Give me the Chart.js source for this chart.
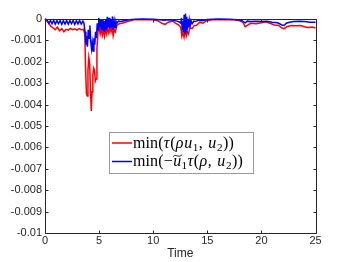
<!DOCTYPE html>
<html><head><meta charset="utf-8">
<script src="https://cdn.jsdelivr.net/npm/chart.js@4"></script>
<style>html,body{margin:0;padding:0;background:#fff}#wrap{width:349px;height:262px;position:relative}</style>
</head><body><div id="wrap"><canvas id="c"></canvas></div>
<script>
const redTime = [0,0.15,0.35,0.55,0.75,0.95,1.15,1.35,1.55,1.75,1.95,2.15,2.35,2.55,2.75,2.95,3.15,3.35,3.55,3.68,3.76,3.83,3.9,3.97,4.05,4.13,4.2,4.28,4.35,4.42,4.5,4.58,4.65,4.72,4.8,4.9,5.0,5.1,5.2,5.3,5.4,5.5,5.6,5.7,5.8,5.9,6.0,6.1,6.2,6.3,6.4,6.5,6.65,6.85,7.1,7.4,7.8,8.2,9,10,10.5,10.8,11.1,11.4,11.8,12.1,12.4,12.55,12.65,12.75,12.85,12.95,13.05,13.15,13.25,13.4,13.6,13.8,14.0,14.3,14.6,14.9,15.5,16.5,17.5,18.0,18.3,18.5,18.7,19.0,19.5,20.0,20.4,20.8,21.2,21.6,21.9,22.1,22.4,22.8,23.2,23.6,24.0,24.3,24.7,25];
const redValues = [0,-0.00008,-0.0002,-0.00035,-0.00042,-0.0005,-0.00038,-0.00055,-0.00045,-0.0006,-0.00048,-0.00052,-0.00044,-0.0005,-0.00046,-0.00052,-0.00045,-0.0005,-0.00048,-0.0007,-0.0025,-0.0035,-0.0036,-0.0024,-0.0018,-0.0021,-0.0033,-0.0043,-0.0034,-0.0026,-0.0023,-0.0024,-0.0029,-0.0028,-0.0014,-0.0006,-0.00045,-0.0007,-0.0004,-0.00075,-0.0005,-0.0008,-0.00045,-0.0007,-0.0004,-0.00065,-0.0004,-0.0006,-0.00038,-0.00078,-0.0005,-0.0006,-0.0003,-0.00022,-0.0002,-0.00015,-0.0001,-0.00004,-0.00003,-0.00004,-0.0001,-0.0002,-0.00025,-0.00015,-0.0001,-0.0002,-0.0003,-0.0004,-0.0008,-0.0006,-0.00085,-0.0005,-0.0008,-0.0006,-0.0007,-0.0004,-0.00045,-0.0003,-0.0003,-0.00015,-0.0002,-0.00008,-0.00004,-0.00003,-0.00004,-0.00008,-0.00015,-0.00036,-0.0003,-0.0002,-0.00022,-0.00018,-0.00013,-0.0002,-0.00028,-0.0003,-0.00042,-0.00045,-0.00035,-0.0003,-0.00032,-0.0003,-0.00036,-0.0004,-0.00038,-0.00042];
const blueTime = [0,0.2,0.35,0.5,0.65,0.8,0.95,1.1,1.25,1.4,1.55,1.7,1.85,2.0,2.15,2.3,2.45,2.6,2.75,2.9,3.05,3.2,3.35,3.5,3.6,3.7,3.78,3.85,3.92,4.0,4.07,4.15,4.22,4.3,4.37,4.44,4.52,4.6,4.67,4.75,4.83,4.9,4.97,5.05,5.12,5.2,5.28,5.36,5.44,5.52,5.6,5.68,5.76,5.84,5.92,6.0,6.08,6.16,6.24,6.32,6.4,6.48,6.56,6.64,6.8,7.0,7.3,7.8,8.3,9,10,10.6,11,11.4,11.8,12.2,12.45,12.55,12.62,12.68,12.74,12.8,12.86,12.92,12.98,13.04,13.1,13.16,13.22,13.28,13.34,13.42,13.5,13.6,13.75,13.9,14.2,14.5,15,16,17,17.8,18.2,18.5,18.7,19,19.5,20,20.5,21,21.5,21.9,22.1,22.3,22.6,23,23.5,24,24.5,25];
const blueValues = [0,-0.00005,-0.0002,-0.00007,-0.00022,-0.00006,-0.00024,-0.00008,-0.00022,-0.00007,-0.00025,-0.00008,-0.00023,-0.00007,-0.00024,-0.00008,-0.00022,-0.00007,-0.00025,-0.00008,-0.00023,-0.00007,-0.00024,-0.0001,-0.0002,-0.0006,-0.0012,-0.0008,-0.0013,-0.0005,-0.0009,-0.0003,-0.001,-0.0014,-0.0011,-0.0015,-0.0009,-0.0012,-0.0006,-0.0009,-0.0002,-0.0005,0.00005,-0.0004,-0.00005,-0.0005,0,-0.00055,-0.0001,-0.0006,-0.00005,-0.0005,0.0001,-0.0004,0.00005,-0.00045,0,-0.0004,0.00012,-0.0005,-0.0001,-0.0004,-0.0001,-0.0002,-0.0001,-0.00012,-0.00008,-0.00004,-0.00001,0,-0.00001,-0.00003,-0.00006,-0.00003,-0.00005,-0.0001,-0.00015,-0.0002,0.00005,-0.0005,-0.0001,-0.0006,0.0002,-0.0007,0.00025,-0.0006,0.0001,-0.0005,0,-0.0004,-0.00005,-0.0003,-0.00008,-0.00022,-0.0001,-0.00012,-0.00005,-0.00008,-0.00002,0,-0.00001,-0.00003,-0.00008,-0.00018,-0.0001,-0.00012,-0.0001,-0.00012,-0.0001,-0.00015,-0.00018,-0.00028,-0.0003,-0.0002,-0.00015,-0.00012,-0.0001,-0.00012,-0.00015,-0.00015];
const seriesLabels = ['min(τ(ρu₁, u₂))', 'min(−ũ₁τ(ρ, u₂))'];
const seriesColors = ['#ff0000', '#0000ff'];
const xTickValues = [0,5,10,15,20,25];
const xTickLabels = ['0','5','10','15','20','25'];
const yTickValues = [0,-0.001,-0.002,-0.003,-0.004,-0.005,-0.006,-0.007,-0.008,-0.009,-0.01];
const yTickLabels = ['0','-0.001','-0.002','-0.003','-0.004','-0.005','-0.006','-0.007','-0.008','-0.009','-0.01'];
const xTitle = 'Time';

const AX = '#262626';
function pts(t, v){ return t.map((x,i)=>({x:x, y:v[i]})); }

function drawMath(ctx, str, x, y, size){
  const fam = '"Liberation Serif"';
  const up = size + 'px ' + fam, it = 'italic ' + size + 'px ' + fam, sub = (size*0.7) + 'px ' + fam;
  const subMap = {'₁':'1','₂':'2'};
  const gap = size*0.02;
  let cx = x, i = 0;
  const chars = Array.from(str.normalize('NFC'));
  while (i < chars.length){
    if (chars[i]==='m' && chars[i+1]==='i' && chars[i+2]==='n'){
      ctx.font = up; ctx.fillText('min', cx, y); cx += ctx.measureText('min').width + gap; i += 3; continue;
    }
    const ch = chars[i];
    if (ch === '\u0303'){ i++; continue; }
    if (subMap[ch]){
      ctx.font = sub; ctx.fillText(subMap[ch], cx, y + size*0.2); cx += ctx.measureText(subMap[ch]).width + gap;
    } else if (ch === 'ũ'){
      ctx.font = it; const w = ctx.measureText('u').width;
      ctx.fillText('u', cx, y);
      const ty = y - size*0.66, x0 = cx, x1 = cx + w + 1;
      ctx.save(); ctx.strokeStyle = ctx.fillStyle; ctx.lineWidth = 0.9; ctx.beginPath();
      ctx.moveTo(x0, ty + 1.2);
      ctx.bezierCurveTo(x0 + (x1-x0)*0.3, ty - 2.2, x0 + (x1-x0)*0.6, ty + 3.2, x1, ty - 0.8);
      ctx.stroke(); ctx.restore();
      cx += w + gap;
    } else if (/[a-zα-ω]/.test(ch)){
      ctx.font = it; ctx.fillText(ch, cx, y); cx += ctx.measureText(ch).width + size*0.04;
    } else {
      ctx.font = up; ctx.fillText(ch, cx, y); cx += ctx.measureText(ch).width + gap;
      if (ch === ',') cx += size*0.06;
    }
    i++;
  }
  return cx - x;
}

const framePlugin = {
  id: 'frame',
  afterDatasetsDraw(chart){
    const ctx = chart.ctx, a = chart.chartArea, xs = chart.scales.x, ys = chart.scales.y;
    ctx.save();
    ctx.strokeStyle = AX; ctx.lineWidth = 1;
    const L = Math.round(a.left)+0.5, R = Math.round(a.right)+0.5, T = Math.round(a.top)+0.5, B = Math.round(a.bottom)+0.5;
    ctx.beginPath(); ctx.rect(L, T, R-L, B-T); ctx.stroke();
    const tl = 3;
    ctx.beginPath();
    xTickValues.forEach(v => { const px = Math.round(xs.getPixelForValue(v))+0.5; ctx.moveTo(px, B); ctx.lineTo(px, B-tl); ctx.moveTo(px, T); ctx.lineTo(px, T+tl); });
    yTickValues.forEach(v => { const py = Math.round(ys.getPixelForValue(v))+0.5; ctx.moveTo(L, py); ctx.lineTo(L+tl, py); ctx.moveTo(R, py); ctx.lineTo(R-tl, py); });
    ctx.stroke();
    // legend
    const bx = 109.5, by = 132.5, bw = 144, bh = 41;
    ctx.fillStyle = '#fff'; ctx.fillRect(bx, by, bw, bh);
    ctx.strokeStyle = '#9a9a9a'; ctx.strokeRect(bx, by, bw, bh);
    const rows = [147.5, 166];
    chart.data.datasets.forEach((ds, k) => {
      const yb = rows[k];
      ctx.strokeStyle = ds.borderColor; ctx.lineWidth = 1.5;
      ctx.beginPath(); ctx.moveTo(112, yb - 4.5); ctx.lineTo(132, yb - 4.5); ctx.stroke();
      ctx.fillStyle = '#000'; ctx.textBaseline = 'alphabetic'; ctx.textAlign = 'left';
      drawMath(ctx, ds.label, 133, yb, 16);
    });
    ctx.restore();
  }
};

new Chart(document.getElementById('c'), {
  type: 'line',
  data: {
    datasets: [
      { label: seriesLabels[0], data: pts(redTime, redValues), borderColor: seriesColors[0], borderWidth: 1.5, pointRadius: 0, tension: 0, clip: false, order: 1 },
      { label: seriesLabels[1], data: pts(blueTime, blueValues), borderColor: seriesColors[1], borderWidth: 1.5, pointRadius: 0, tension: 0, clip: false, order: 0 }
    ]
  },
  options: {
    responsive: true, maintainAspectRatio: false, animation: false,
    layout: { padding: { top: 19, right: 33.5, left: 0, bottom: 0 } },
    plugins: { legend: { display: false }, tooltip: { enabled: false } },
    scales: {
      x: {
        type: 'linear', min: 0, max: 25,
        afterBuildTicks: s => { s.ticks = xTickValues.map(v => ({ value: v })); },
        afterFit: s => { s.height = 29; },
        ticks: { color: AX, font: { family: '"Liberation Sans", Arial, sans-serif', size: 11 }, padding: 1, maxRotation: 0, autoSkip: false,
          callback: (v, i) => xTickLabels[i] },
        grid: { display: false, drawTicks: false }, border: { display: false },
        title: { display: true, text: xTitle, color: AX, font: { family: '"Liberation Sans", Arial, sans-serif', size: 12 }, padding: { top: 0, bottom: 1 } }
      },
      y: {
        type: 'linear', min: -0.01, max: 0,
        afterBuildTicks: s => { s.ticks = yTickValues.slice().reverse().map(v => ({ value: v })); },
        afterFit: s => { s.width = 45; },
        ticks: { color: AX, font: { family: '"Liberation Sans", Arial, sans-serif', size: 11 }, padding: 3, autoSkip: false,
          callback: (v) => yTickLabels[yTickValues.indexOf(v)] },
        grid: { display: false, drawTicks: false }, border: { display: false }
      }
    }
  },
  plugins: [framePlugin]
});
</script></body></html>
